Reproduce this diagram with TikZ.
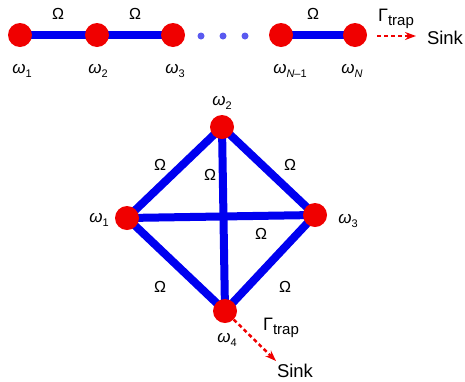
\documentclass[tikz,border=0pt]{standalone}
\usepackage{fontspec}
\setmainfont{Liberation Sans}
\usetikzlibrary{arrows.meta}
\definecolor{bl}{RGB}{0,0,240}
\definecolor{rd}{RGB}{240,0,0}
\definecolor{dotc}{RGB}{90,90,240}
\newcommand{\wsub}[1]{\textit{ω}{\fontsize{11}{11}\selectfont\raisebox{-3.5pt}{#1}}}
\newcommand{\gtrap}{Γ{\fontsize{15}{15}\selectfont\raisebox{-4.5pt}{trap}}}
\tikzset{
  site/.style={circle,fill=rd,minimum size=24pt,inner sep=0pt},
  bond/.style={line width=8pt,draw=bl},
  lab/.style={font=\fontsize{17}{17}\selectfont,inner sep=0pt},
  olab/.style={font=\fontsize{16}{16}\selectfont,inner sep=0pt},
  trap/.style={draw=rd,line width=2.5pt,dash pattern=on 4pt off 3pt,-{Stealth[length=11pt,width=8pt]}},
  dotb/.style={circle,fill=dotc,minimum size=7pt,inner sep=0pt},
  glab/.style={font=\fontsize{18}{18}\selectfont,inner sep=0pt},
  sink/.style={font=\fontsize{18.5}{18.5}\selectfont,inner sep=0pt}
}
\begin{document}
\begin{tikzpicture}[x=1pt,y=-1pt]
\useasboundingbox (0,0) rectangle (465,381);
% top chain
\coordinate (a1) at (20,35);
\coordinate (a2) at (97,35);
\coordinate (a3) at (173,35);
\coordinate (a4) at (281,35);
\coordinate (a5) at (355,35);
\draw[bond] (a1) -- (a2);
\draw[bond] (a2) -- (a3);
\draw[bond] (a4) -- (a5);
\node[site] (m1) at (a1) {};
\node[site] (m2) at (a2) {};
\node[site] (m3) at (a3) {};
\node[site] (m4) at (a4) {};
\node[site] (m5) at (a5) {};
\node[dotb] (d1) at (201,36) {};
\node[dotb] (d2) at (223,36) {};
\node[dotb] (d3) at (245,36) {};
\node[olab] (o1) at (58,14) {Ω};
\node[olab] (o2) at (135,14) {Ω};
\node[olab] (o3) at (313,14) {Ω};
\node[lab] (l1) at (22,71) {\wsub{1}};
\node[lab] (l2) at (98,71) {\wsub{2}};
\node[lab] (l3) at (175,71) {\wsub{3}};
\node[lab] (l4) at (290,71) {\wsub{\textit{N}–1}};
\node[lab] (l5) at (352,71) {\wsub{\textit{N}}};
\node[glab] (g1) at (396,19) {\gtrap};
\node[sink] (s1) at (445,38) {Sink};
\coordinate (t1) at (377,36);
\coordinate (t2) at (416,36);
\draw[trap] (t1) -- (t2);
% diamond
\coordinate (b1) at (127,218);
\coordinate (b2) at (222,127);
\coordinate (b3) at (315,215);
\coordinate (b4) at (225,311);
\draw[bond] (b1) -- (b2) -- (b3) -- (b4) -- cycle;
\draw[bond] (b1) -- (b3);
\draw[bond] (b2) -- (b4);
\node[site] (n1) at (b1) {};
\node[site] (n2) at (b2) {};
\node[site] (n3) at (b3) {};
\node[site] (n4) at (b4) {};
\node[lab] (k2) at (222,103) {\wsub{2}};
\node[lab] (k1) at (99,220) {\wsub{1}};
\node[lab] (k3) at (348,221) {\wsub{3}};
\node[lab] (k4) at (227,340) {\wsub{4}};
\node[olab] (p1) at (160,165) {Ω};
\node[olab] (p2) at (210,175) {Ω};
\node[olab] (p3) at (290,165) {Ω};
\node[olab] (p4) at (261,234) {Ω};
\node[olab] (p5) at (160,287) {Ω};
\node[olab] (p6) at (285,287) {Ω};
\node[glab] (g2) at (281,328) {\gtrap};
\node[sink] (s2) at (295,371) {Sink};
\coordinate (t3) at (276,361);
\draw[trap] (n4) -- (t3);
\end{tikzpicture}
\end{document}
